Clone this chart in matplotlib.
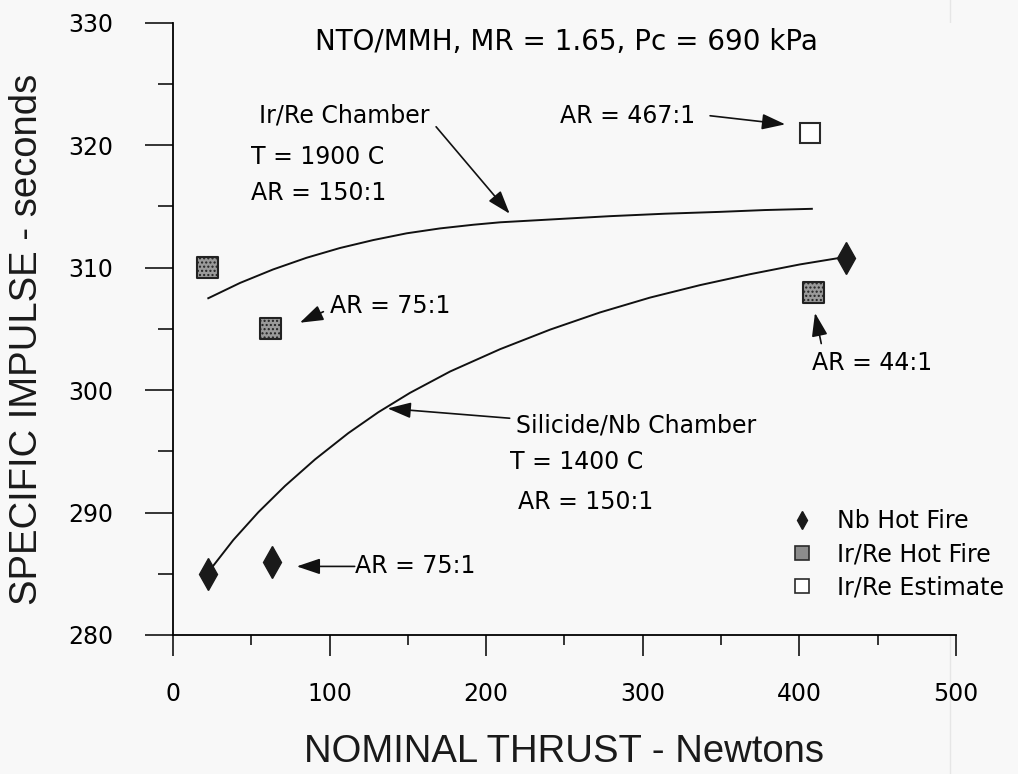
import matplotlib.pyplot as plt
from matplotlib.lines import Line2D
import numpy as np

plt.rcParams['font.family'] = ['DejaVu Sans']
plt.rcParams['hatch.linewidth'] = 1.0

# hot fire and estimate points
nb_x = [22, 63, 430]
nb_y = [285, 286, 310.8]
irre_x = [22, 62, 409]
irre_y = [310, 305, 308]
est_x = [407]
est_y = [321]

# curves
irre_curve_x = [22.5, 42.8, 63.9, 85.2, 106.6, 127.9, 149.2, 170.5, 191.8, 209, 244, 279, 314, 349, 378, 408]
irre_curve_y = [307.5, 308.75, 309.85, 310.8, 311.6, 312.25, 312.8, 313.2, 313.5, 313.7, 313.95, 314.2, 314.4, 314.55, 314.7, 314.8]
nb_curve_x = [22.3, 38.5, 54.5, 71.5, 90.7, 111.9, 131.1, 151.3, 177.0, 208.9, 240.9, 272.7, 304.6, 336.6, 368.5, 400.4, 429]
nb_curve_y = [285.1, 287.76, 290.03, 292.17, 294.34, 296.48, 298.19, 299.77, 301.52, 303.34, 304.94, 306.34, 307.55, 308.57, 309.46, 310.26, 310.86]

bg = '#f8f8f8'
fig = plt.figure(figsize=(10.18, 7.74), dpi=100, facecolor=bg)
ax = fig.add_axes([0.170, 0.1796, 0.769, 0.7911], facecolor=bg)

# faint scan line on the right
fig.add_artist(Line2D([950 / 1018, 950 / 1018], [0, 1], color='#e6e6e6', lw=1, zorder=0))

ax.plot(irre_curve_x, irre_curve_y, color='#111', lw=1.4)
ax.plot(nb_curve_x, nb_curve_y, color='#111', lw=1.4)

ax.plot(nb_x, nb_y, ls='none', marker='d', ms=16, color='#1a1a1a', zorder=5)
ax.scatter(irre_x, irre_y, marker='s', s=15 ** 2, facecolor='#9a9a9a', edgecolor='#222',
           linewidth=1.5, hatch='....', zorder=5)
ax.plot(est_x, est_y, ls='none', marker='s', ms=15, mfc='white', mec='#2a2a2a', mew=1.5, zorder=5)

ax.set_xlim(0, 500)
ax.set_ylim(280, 330)
ax.set_xticks([0, 100, 200, 300, 400, 500])
ax.set_xticks(np.arange(50, 500, 100), minor=True)
ax.set_yticks([280, 290, 300, 310, 320, 330])
ax.set_yticks(np.arange(285, 330, 10), minor=True)
for s in ['top', 'right']:
    ax.spines[s].set_visible(False)
for s in ['left', 'bottom']:
    ax.spines[s].set_linewidth(1.3)
ax.tick_params(axis='y', which='major', length=20, width=1.1, pad=23, labelsize=17)
ax.tick_params(axis='y', which='minor', length=11, width=1.1)
ax.tick_params(axis='x', which='major', length=15, width=1.1, pad=19, labelsize=17)
ax.tick_params(axis='x', which='minor', length=7, width=1.1)

fig.text(27 / 1018, 1 - 339 / 774, 'SPECIFIC IMPULSE - seconds', rotation=90,
         ha='center', va='center', fontsize=27.5, color='#1a1a1a', family='Liberation Sans')
fig.text(564 / 1018, 1 - 752 / 774, 'NOMINAL THRUST - Newtons',
         ha='center', va='center', fontsize=27.5, color='#1a1a1a', family='Liberation Sans')

ax.text(251, 328.4, 'NTO/MMH, MR = 1.65, Pc = 690 kPa', ha='center', va='center', fontsize=20)

ann = dict(fontsize=17, va='center', ha='left')
arrow = dict(arrowstyle='-|>,head_length=0.65,head_width=0.22', color='#111', lw=1.2,
             mutation_scale=22, shrinkA=0, shrinkB=0)

ax.text(55, 322.4, 'Ir/Re Chamber', **ann)
ax.text(50, 319.0, 'T = 1900 C', **ann)
ax.text(50, 316.1, 'AR = 150:1', **ann)
ax.annotate('', xy=(215, 314.4), xytext=(168, 321.5), arrowprops=arrow)

ax.text(247, 322.4, 'AR = 467:1', **ann)
ax.annotate('', xy=(391, 321.7), xytext=(343, 322.4), arrowprops=arrow)

ax.text(100, 306.9, 'AR = 75:1', **ann)
ax.annotate('', xy=(81, 305.5), xytext=(96, 306.4), arrowprops=arrow)

ax.text(408, 302.2, 'AR = 44:1', **ann)
ax.annotate('', xy=(410, 306.3), xytext=(414, 303.8), arrowprops=arrow)

ax.text(219, 297.1, 'Silicide/Nb Chamber', **ann)
ax.text(215, 294.1, 'T = 1400 C', **ann)
ax.text(220, 290.9, 'AR = 150:1', **ann)
ax.annotate('', xy=(137, 298.5), xytext=(215, 297.7), arrowprops=arrow)

ax.text(116, 285.6, 'AR = 75:1', **ann)
ax.annotate('', xy=(79, 285.6), xytext=(116, 285.6), arrowprops=arrow)

handles = [
    Line2D([], [], ls='none', marker='d', ms=9, color='#1a1a1a'),
    Line2D([], [], ls='none', marker='s', ms=10, mfc='#8c8c8c', mec='#2a2a2a', mew=1.2),
    Line2D([], [], ls='none', marker='s', ms=10, mfc='white', mec='#2a2a2a', mew=1.2),
]
ax.legend(handles, ['Nb Hot Fire', 'Ir/Re Hot Fire', 'Ir/Re Estimate'],
          loc='upper left', bbox_to_anchor=(0.785, 0.205), frameon=False,
          fontsize=17, labelspacing=0.38, handletextpad=0.9, handlelength=1.2,
          borderaxespad=0, borderpad=0)

fig.savefig('out.png', dpi=100, facecolor=bg)
